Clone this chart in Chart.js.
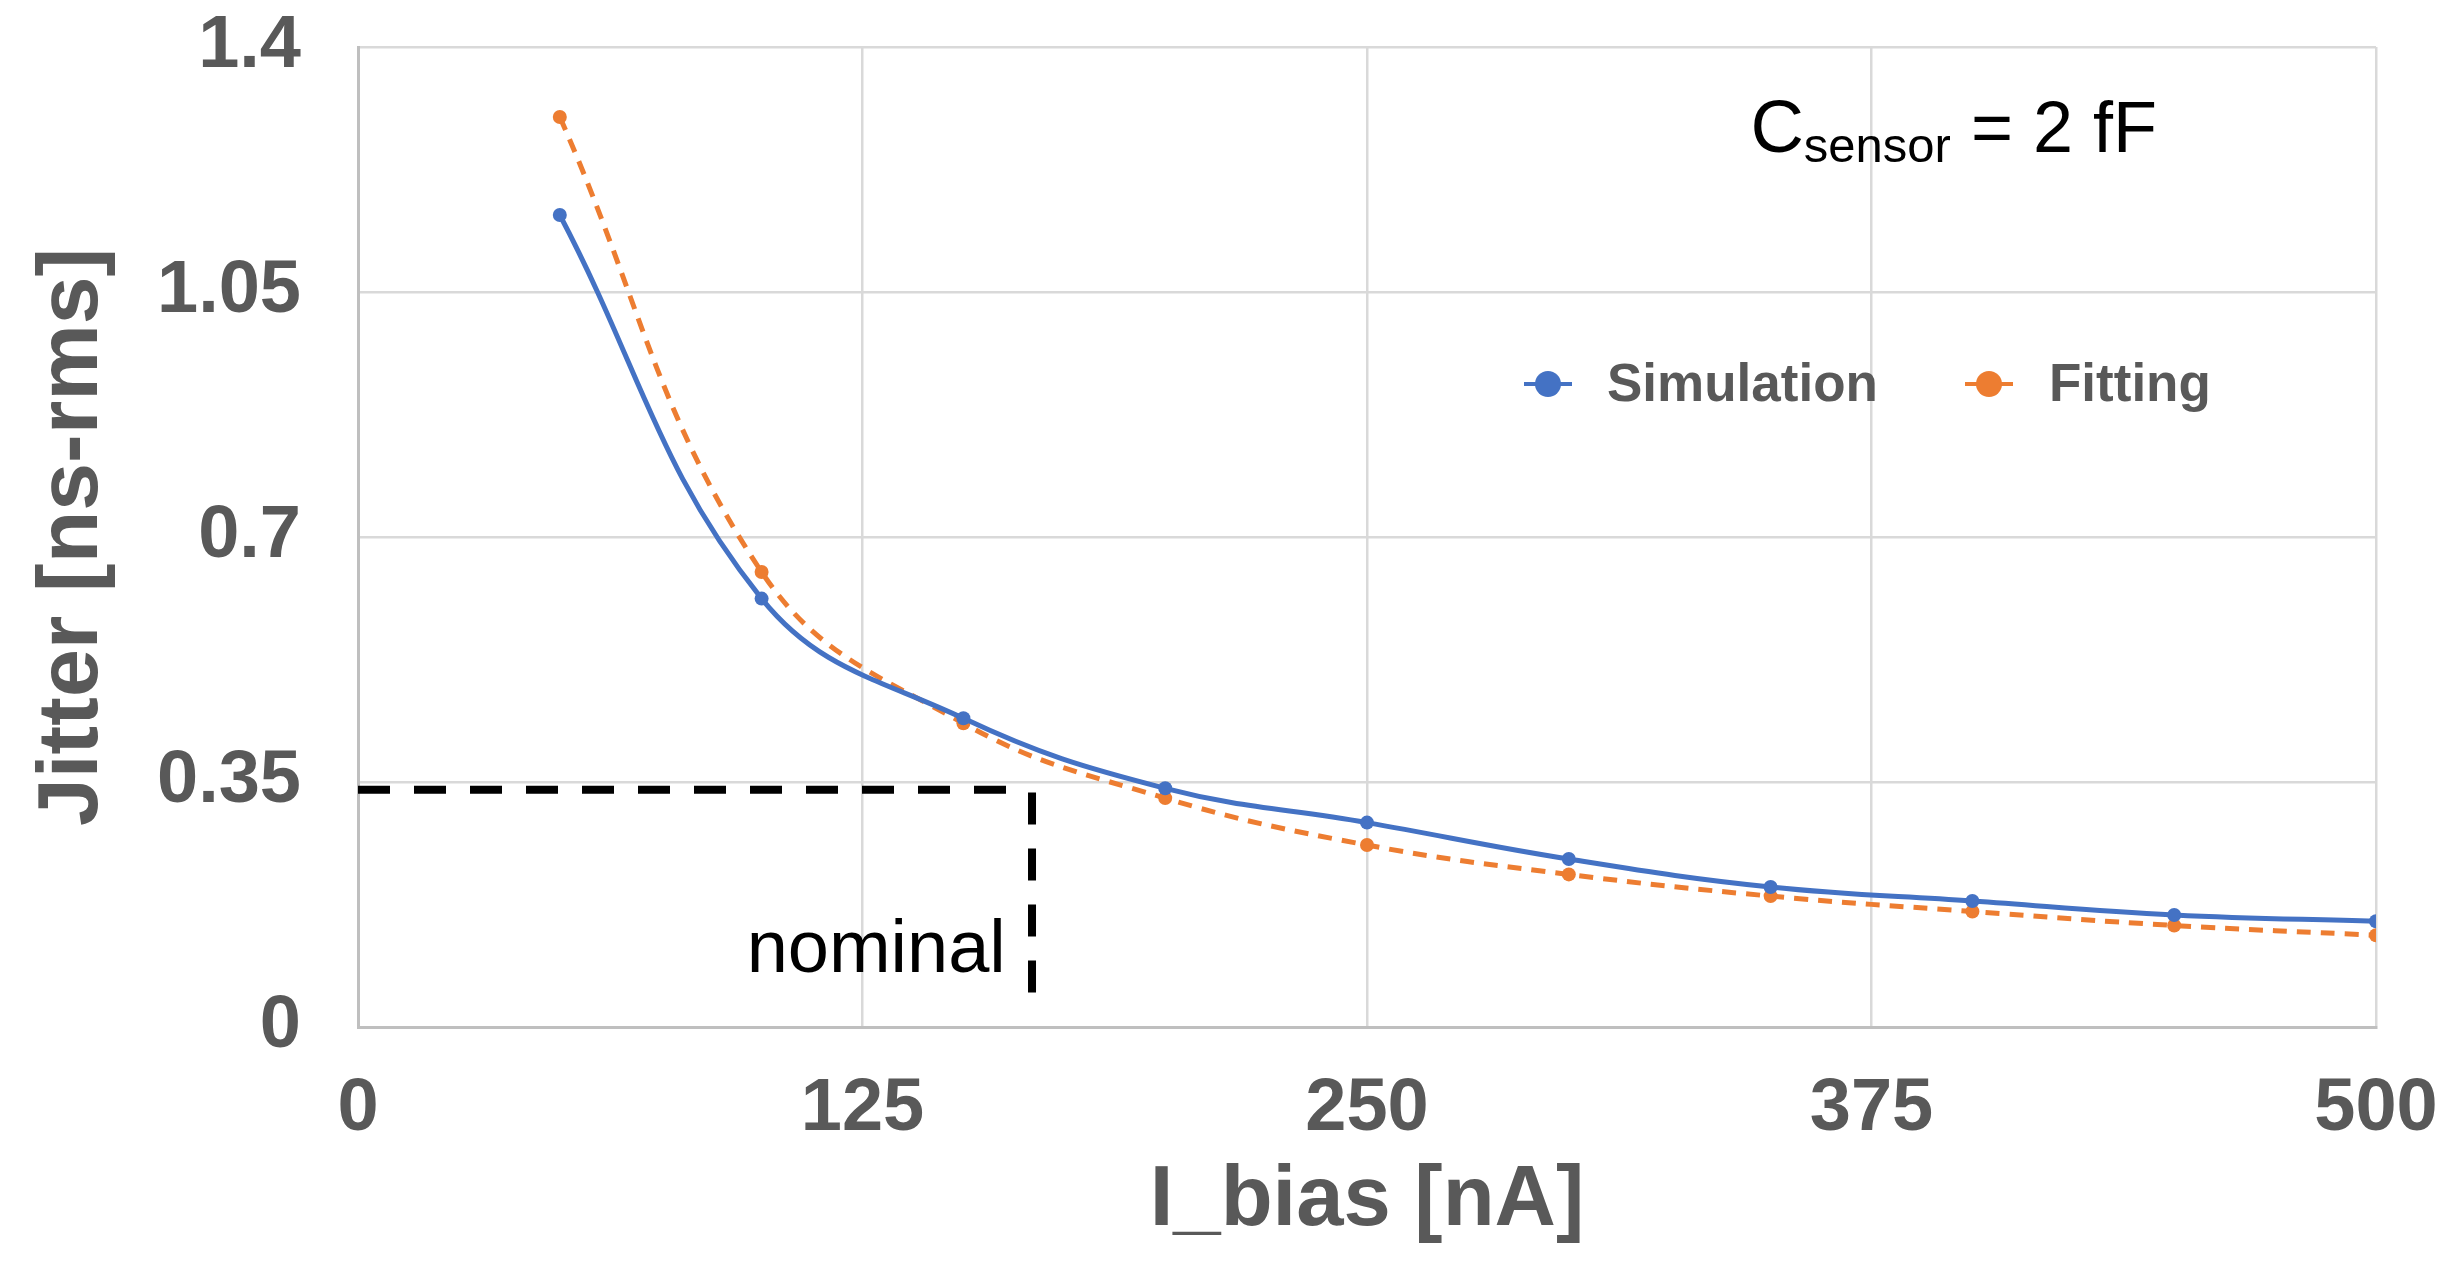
<!DOCTYPE html>
<html>
<head>
<meta charset="utf-8">
<script src="https://cdn.jsdelivr.net/npm/chart.js@4.4.0/dist/chart.umd.min.js"></script>
<style>
  html, body { margin: 0; padding: 0; background: #fff; }
  #wrap { width: 2443px; height: 1283px; position: relative; }
</style>
</head>
<body>
<div id="wrap"><canvas id="chartJitter"></canvas></div>
<script>
// values
var iBias = [50, 100, 150, 200, 250, 300, 350, 400, 450, 500];
var simulation = [1.16, 0.612, 0.441, 0.341, 0.292, 0.240, 0.200, 0.180, 0.160, 0.151];
var fitting = [1.30, 0.650, 0.434, 0.327, 0.260, 0.218, 0.187, 0.165, 0.145, 0.131];

var xTicks = [0, 125, 250, 375, 500];
var yTicks = [0, 0.35, 0.7, 1.05, 1.4];
var yTickLabels = ['0', '0.35', '0.7', '1.05', '1.4'];

// nominal operating point (dashed black marker)
var nominalHx = [0, 162];
var nominalHy = 0.339;
var nominalVx = 167;
var nominalVy = [0.335, 0.049];

var seriesNames = ['Simulation', 'Fitting'];
var BLUE = '#4472C4';
var ORANGE = '#ED7D31';
var GREY = '#595959';
var FONT = '"Liberation Sans", Arial, sans-serif';

function toPoints(xs, ys) {
    var pts = [];
    for (var i = 0; i < xs.length; i++) {
        pts.push({ x: xs[i], y: ys[i] });
    }
    return pts;
}

// legend + text labels drawn on top of the plot
var overlay = {
    id: 'overlay',
    afterDraw: function (chart) {
        var ctx = chart.ctx;
        var xs = chart.scales.x, ys = chart.scales.y;
        ctx.save();

        // legend inside the plot area
        var items = [
            { label: seriesNames[0], color: BLUE, cx: 1548, tx: 1607 },
            { label: seriesNames[1], color: ORANGE, cx: 1989, tx: 2049 }
        ];
        var ly = 384;
        items.forEach(function (it) {
            ctx.strokeStyle = it.color;
            ctx.lineWidth = 4;
            ctx.beginPath();
            ctx.moveTo(it.cx - 24, ly);
            ctx.lineTo(it.cx + 24, ly);
            ctx.stroke();
            ctx.fillStyle = it.color;
            ctx.beginPath();
            ctx.arc(it.cx, ly, 13, 0, Math.PI * 2);
            ctx.fill();
            ctx.fillStyle = GREY;
            ctx.font = 'bold 53px ' + FONT;
            ctx.textAlign = 'left';
            ctx.textBaseline = 'middle';
            ctx.fillText(it.label, it.tx, ly + 2);
        });

        // "nominal"
        ctx.fillStyle = '#000';
        ctx.font = '74px ' + FONT;
        ctx.textAlign = 'right';
        ctx.textBaseline = 'alphabetic';
        ctx.fillText('nominal', xs.getPixelForValue(160.5), ys.getPixelForValue(0.079));

        // C_sensor = 2 fF
        var x0 = xs.getPixelForValue(345);
        var y0 = ys.getPixelForValue(1.25);
        ctx.textAlign = 'left';
        ctx.font = '74px ' + FONT;
        ctx.fillText('C', x0, y0);
        x0 += ctx.measureText('C').width;
        ctx.font = '49px ' + FONT;
        ctx.fillText('sensor', x0, y0 + 10);
        x0 += ctx.measureText('sensor').width;
        ctx.font = '72px ' + FONT;
        ctx.fillText(' = 2 fF', x0, y0);

        ctx.restore();
    }
};

function noEdgePadding(scale) {
    scale.paddingTop = 0;
    scale.paddingBottom = 0;
    scale.paddingLeft = 0;
    scale.paddingRight = 0;
}

const ctx = document.getElementById('chartJitter').getContext('2d');
const myChart = new Chart(ctx, {
    type: 'line',
    data: {
        datasets: [{
            label: seriesNames[0],
            data: toPoints(iBias, simulation),
            borderColor: BLUE,
            backgroundColor: BLUE,
            borderWidth: 5,
            pointRadius: 7,
            pointBorderWidth: 0,
            tension: 0.4,
            fill: false
        }, {
            label: seriesNames[1],
            data: toPoints(iBias, fitting),
            borderColor: ORANGE,
            backgroundColor: ORANGE,
            borderWidth: 5,
            borderDash: [14, 10],
            pointRadius: 7,
            pointBorderWidth: 0,
            tension: 0.4,
            fill: false
        }, {
            label: 'nominal-h',
            data: toPoints(nominalHx, [nominalHy, nominalHy]),
            borderColor: '#000',
            borderWidth: 8,
            borderDash: [32, 24],
            pointRadius: 0,
            tension: 0,
            fill: false
        }, {
            label: 'nominal-v',
            data: toPoints([nominalVx, nominalVx], nominalVy),
            borderColor: '#000',
            borderWidth: 8,
            borderDash: [32, 24],
            pointRadius: 0,
            tension: 0,
            fill: false
        }]
    },
    options: {
        responsive: true,
        maintainAspectRatio: false,
        animation: false,
        layout: { padding: { left: 0, right: 67, top: 47, bottom: 0 } },
        plugins: {
            legend: { display: false },
            tooltip: { enabled: false }
        },
        scales: {
            x: {
                type: 'linear',
                min: 0,
                max: 500,
                afterBuildTicks: function (scale) {
                    scale.ticks = xTicks.map(function (v) { return { value: v }; });
                },
                afterFit: function (scale) {
                    scale.height = 256;
                    noEdgePadding(scale);
                },
                grid: { color: '#d9d9d9', lineWidth: 2.5, drawTicks: false },
                border: { color: '#bfbfbf', width: 3 },
                ticks: {
                    color: GREY,
                    padding: 38,
                    maxRotation: 0,
                    font: { family: FONT, size: 74, weight: 'bold' }
                },
                title: {
                    display: true,
                    text: 'I_bias [nA]',
                    color: GREY,
                    padding: { top: 0, bottom: 30 },
                    font: { family: FONT, size: 85, weight: 'bold' }
                }
            },
            y: {
                type: 'linear',
                min: 0,
                max: 1.4,
                afterBuildTicks: function (scale) {
                    scale.ticks = yTicks.map(function (v) { return { value: v }; });
                },
                afterFit: function (scale) {
                    scale.width = 358;
                    noEdgePadding(scale);
                },
                grid: { color: '#d9d9d9', lineWidth: 2.5, drawTicks: false },
                border: { color: '#bfbfbf', width: 3 },
                ticks: {
                    color: GREY,
                    padding: 57,
                    font: { family: FONT, size: 74, weight: 'bold' },
                    callback: function (value, index) {
                        return yTickLabels[index];
                    }
                },
                title: {
                    display: true,
                    text: 'Jitter [ns-rms]',
                    color: GREY,
                    padding: { top: 22, bottom: 0 },
                    font: { family: FONT, size: 86, weight: 'bold' }
                }
            }
        }
    },
    plugins: [overlay]
});
</script>
</body>
</html>
